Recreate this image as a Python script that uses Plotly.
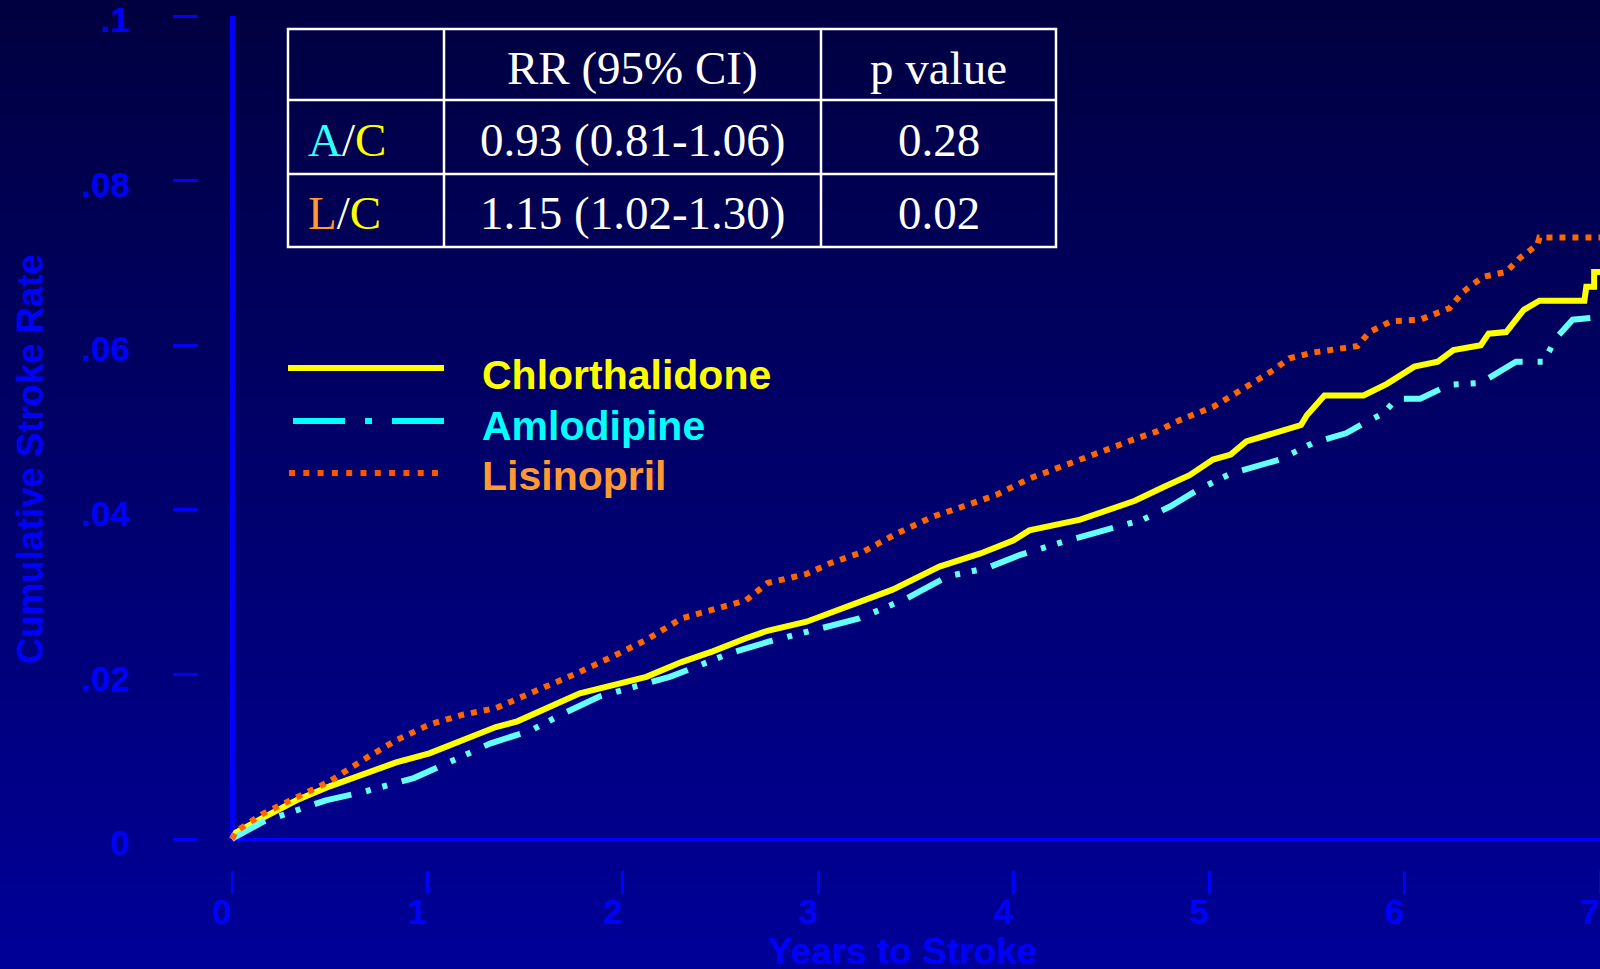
import plotly.graph_objects as go

# ---------------- data ----------------
chl_years = [0, 0.02, 0.16, 0.33, 0.50, 0.67, 0.84, 1.01, 1.18, 1.35,
             1.46, 1.61, 1.78, 1.95, 2.12, 2.30, 2.46, 2.63, 2.74, 2.94,
             3.15, 3.38, 3.62, 3.83, 4.00, 4.08, 4.34, 4.48, 4.62, 4.77,
             4.90, 5.02, 5.11, 5.19, 5.33, 5.47, 5.50, 5.59, 5.79, 5.91,
             6.05, 6.17, 6.25, 6.39, 6.43, 6.52, 6.61, 6.69, 6.92, 6.93,
             6.97, 6.97, 7.00]
chl_rate = [0, 0.0008, 0.0026, 0.0047, 0.0064, 0.0078, 0.0093, 0.0104, 0.0120, 0.0136,
            0.0143, 0.0159, 0.0177, 0.0187, 0.0197, 0.0215, 0.0228, 0.0244, 0.0253, 0.0264,
            0.0282, 0.0303, 0.0331, 0.0347, 0.0363, 0.0375, 0.0388, 0.0400, 0.0411, 0.0428,
            0.0442, 0.0461, 0.0467, 0.0483, 0.0493, 0.0503, 0.0515, 0.0539, 0.0539, 0.0553,
            0.0574, 0.0580, 0.0594, 0.0600, 0.0614, 0.0616, 0.0643, 0.0654, 0.0654, 0.0671,
            0.0671, 0.0689, 0.0689]

aml_years = [0, 0.02, 0.16, 0.33, 0.48, 0.67, 0.93, 1.10, 1.32, 1.53,
             1.70, 1.88, 2.12, 2.24, 2.34, 2.55, 2.75, 3.03, 3.21, 3.45,
             3.66, 3.86, 4.03, 4.25, 4.46, 4.66, 4.80, 4.94, 5.11, 5.36,
             5.53, 5.70, 5.79, 5.89, 5.96, 6.08, 6.23, 6.39, 6.43, 6.57,
             6.71, 6.78, 6.86, 7.00]
aml_rate = [0, 0.0003, 0.0021, 0.0035, 0.0047, 0.0057, 0.0074, 0.0092, 0.0116, 0.0132,
            0.0153, 0.0173, 0.0189, 0.0197, 0.0206, 0.0226, 0.0240, 0.0256, 0.0268, 0.0292,
            0.0319, 0.0329, 0.0345, 0.0361, 0.0375, 0.0388, 0.0404, 0.0424, 0.0444, 0.0461,
            0.0481, 0.0493, 0.0505, 0.0517, 0.0535, 0.0535, 0.0552, 0.0554, 0.0560, 0.0580,
            0.0580, 0.0610, 0.0631, 0.0634]

lis_years = [0, 0.02, 0.16, 0.33, 0.50, 0.67, 0.84, 1.01, 1.18, 1.35,
             1.49, 1.61, 1.78, 1.95, 2.12, 2.30, 2.46, 2.63, 2.74, 2.94,
             3.06, 3.23, 3.40, 3.59, 3.74, 3.91, 4.08, 4.25, 4.43, 4.62,
             4.73, 4.85, 5.02, 5.18, 5.33, 5.41, 5.53, 5.76, 5.82, 5.93,
             6.08, 6.23, 6.30, 6.40, 6.52, 6.59, 6.68, 6.69, 7.00]
lis_rate = [0, 0.0009, 0.0031, 0.0051, 0.0070, 0.0096, 0.0120, 0.0139, 0.0151, 0.0159,
            0.0173, 0.0185, 0.0203, 0.0222, 0.0242, 0.0268, 0.0278, 0.0290, 0.0311, 0.0322,
            0.0335, 0.0349, 0.0371, 0.0392, 0.0404, 0.0418, 0.0438, 0.0454, 0.0469, 0.0486,
            0.0495, 0.0509, 0.0525, 0.0548, 0.0570, 0.0584, 0.0591, 0.0599, 0.0616, 0.0629,
            0.0631, 0.0645, 0.0665, 0.0683, 0.0689, 0.0706, 0.0722, 0.0731, 0.0731]

x_ticks = [0, 1, 2, 3, 4, 5, 6, 7]
x_tick_text = ["0", "1", "2", "3", "4", "5", "6", "7"]
y_ticks = [0, 0.02, 0.04, 0.06, 0.08, 0.1]
y_tick_text = ["0", ".02", ".04", ".06", ".08", ".1"]

series_names = ["Chlorthalidone", "Amlodipine", "Lisinopril"]
table_header = ["", "RR (95% CI)", "p value"]
table_labels = ['<span style="color:#33FFFF">A</span>/<span style="color:#FFFF00">C</span>',
                '<span style="color:#FF9933">L</span>/<span style="color:#FFFF00">C</span>']
table_rr = ["0.93 (0.81-1.06)", "1.15 (1.02-1.30)"]
table_p = ["0.28", "0.02"]

# ---------------- geometry (pixels) ----------------
W, H = 1600, 969
PL, PT, PB = 198, 16, 870            # paper left / top / bottom
PW, PH = W - PL, PB - PT
X0PX, X7PX = 232, 1600               # pixel of year 0 and year 7
Y0PX, Y1PX = 839, 16                 # pixel of rate 0 and 0.1
ppx = (X7PX - X0PX) / 7.0
ppy = (Y0PX - Y1PX) / 0.1


def px(x):
    return (x - PL) / PW


def py(y):
    return (PB - y) / PH


BLUE = "#0000FF"
SANS = "Liberation Sans, Arial, sans-serif"
SERIF = "Liberation Serif, Times New Roman, serif"

fig = go.Figure()

fig.add_trace(go.Scatter(x=chl_years, y=chl_rate, mode="lines", name=series_names[0],
                         line=dict(color="#FFFF00", width=6)))
fig.add_trace(go.Scatter(x=aml_years, y=aml_rate, mode="lines", name=series_names[1],
                         line=dict(color="#66FFFF", width=6,
                                   dash="38px,15px,5px,12px,5px,15px")))
fig.add_trace(go.Scatter(x=lis_years, y=lis_rate, mode="lines", name=series_names[2],
                         line=dict(color="#FF6600", width=6, dash="6px,7px")))

shapes = []
# vertical background gradient, dark navy at top to brighter blue at bottom
N = 100
top_c, bot_c = (0, 0, 64), (0, 0, 152)
for i in range(N):
    t = (i + 0.5) / N
    c = tuple(round(a + (b - a) * t) for a, b in zip(top_c, bot_c))
    y0 = i * H / N
    y1 = (i + 1) * H / N + 0.6
    shapes.append(dict(type="rect", xref="paper", yref="paper", layer="below",
                       x0=px(-2), x1=px(W + 2), y0=py(y1), y1=py(y0),
                       fillcolor="rgb(%d,%d,%d)" % c, line=dict(width=0)))

# results table grid
T_L, T_R, T_T, T_B = 288, 1056, 29, 247
col_x = [444, 821]
row_y = [100, 174]
wline = dict(color="white", width=2.5)
shapes.append(dict(type="rect", xref="paper", yref="paper",
                   x0=px(T_L), x1=px(T_R), y0=py(T_B), y1=py(T_T), line=wline))
for cx in col_x:
    shapes.append(dict(type="line", xref="paper", yref="paper",
                       x0=px(cx), x1=px(cx), y0=py(T_B), y1=py(T_T), line=wline))
for ry in row_y:
    shapes.append(dict(type="line", xref="paper", yref="paper",
                       x0=px(T_L), x1=px(T_R), y0=py(ry), y1=py(ry), line=wline))

# legend keys
leg_y = [368, 421, 473]
leg_text_y = [375, 426, 476]
leg_styles = [
    dict(color="#FFFF00", width=6, dash="solid", x0=288, x1=444),
    dict(color="#00FFFF", width=6, dash="52px,20px,7px,20px,52px", x0=293, x1=444),
    dict(color="#FF5500", width=6, dash="6px,8.3px", x0=289, x1=444),
]
for ly, st in zip(leg_y, leg_styles):
    shapes.append(dict(type="line", xref="paper", yref="paper",
                       x0=px(st["x0"]), x1=px(st["x1"]), y0=py(ly), y1=py(ly),
                       line=dict(color=st["color"], width=st["width"], dash=st["dash"])))

annotations = []
leg_colors = ["#FFFF00", "#00FFFF", "#FF9933"]
for name, ly, col in zip(series_names, leg_text_y, leg_colors):
    annotations.append(dict(text=name, xref="paper", yref="paper", x=px(480), y=py(ly),
                            xanchor="left", yanchor="middle", showarrow=False,
                            font=dict(family=SANS, size=41, color=col, weight="bold")))

tfont = dict(family=SERIF, size=47, color="white")
cell_cx = [(col_x[0] + col_x[1]) / 2, (col_x[1] + T_R) / 2]
row_cy = [(T_T + row_y[0]) / 2 + 3, (row_y[0] + row_y[1]) / 2 + 3, (row_y[1] + T_B) / 2 + 3]
for txt, cx in zip(table_header[1:], cell_cx):
    annotations.append(dict(text=txt, xref="paper", yref="paper", x=px(cx), y=py(row_cy[0]),
                            xanchor="center", yanchor="middle", showarrow=False, font=tfont))
for i in range(2):
    cy = row_cy[i + 1]
    annotations.append(dict(text=table_labels[i], xref="paper", yref="paper", x=px(306), y=py(cy),
                            xanchor="left", yanchor="middle", showarrow=False, font=tfont))
    annotations.append(dict(text=table_rr[i], xref="paper", yref="paper", x=px(cell_cx[0]), y=py(cy),
                            xanchor="center", yanchor="middle", showarrow=False, font=tfont))
    annotations.append(dict(text=table_p[i], xref="paper", yref="paper", x=px(cell_cx[1]), y=py(cy),
                            xanchor="center", yanchor="middle", showarrow=False, font=tfont))

# axis titles
annotations.append(dict(text="Years to Stroke", xref="paper", yref="paper", x=px(902), y=py(952),
                        xanchor="center", yanchor="middle", showarrow=False,
                        font=dict(family=SANS, size=37, color=BLUE, weight="bold")))
annotations.append(dict(text="Cumulative Stroke Rate", xref="paper", yref="paper", x=px(30), y=py(459),
                        xanchor="center", yanchor="middle", showarrow=False, textangle=-90,
                        font=dict(family=SANS, size=36.5, color=BLUE, weight="bold")))

tickfont = dict(family=SANS, size=35, color=BLUE, weight="bold")

fig.update_layout(
    width=W, height=H,
    margin=dict(l=PL, r=W - PL - PW, t=PT, b=H - PB, pad=0, autoexpand=False),
    paper_bgcolor="rgb(0,0,108)",
    plot_bgcolor="rgba(0,0,0,0)",
    showlegend=False,
    shapes=shapes,
    annotations=annotations,
    xaxis=dict(
        domain=[(X0PX - 3 - PL) / PW, 1],
        range=[-3 / ppx, 7],
        anchor="free", position=0, automargin=False,
        tickvals=x_ticks, ticktext=x_tick_text,
        ticks="outside", ticklen=23, tickwidth=2.5, tickcolor=BLUE,
        tickfont=tickfont, ticklabelshift=-10, ticklabelstandoff=-12,
        ticklabeloverflow="allow",
        showline=False, showgrid=False,
        zeroline=True, zerolinecolor=BLUE, zerolinewidth=5,
        fixedrange=True,
    ),
    yaxis=dict(
        domain=[(PB - (Y0PX + 3)) / PH, 1],
        range=[-3 / ppy, 0.1],
        anchor="free", position=0, automargin=False,
        tickvals=y_ticks, ticktext=y_tick_text,
        ticks="outside", ticklen=25, tickwidth=2.5, tickcolor=BLUE,
        tickfont=tickfont, ticklabelstandoff=36, ticklabelshift=4,
        ticklabeloverflow="allow",
        showline=False, showgrid=False,
        zeroline=True, zerolinecolor=BLUE, zerolinewidth=2.5,
        fixedrange=True,
    ),
)

fig.write_html("out.html")
